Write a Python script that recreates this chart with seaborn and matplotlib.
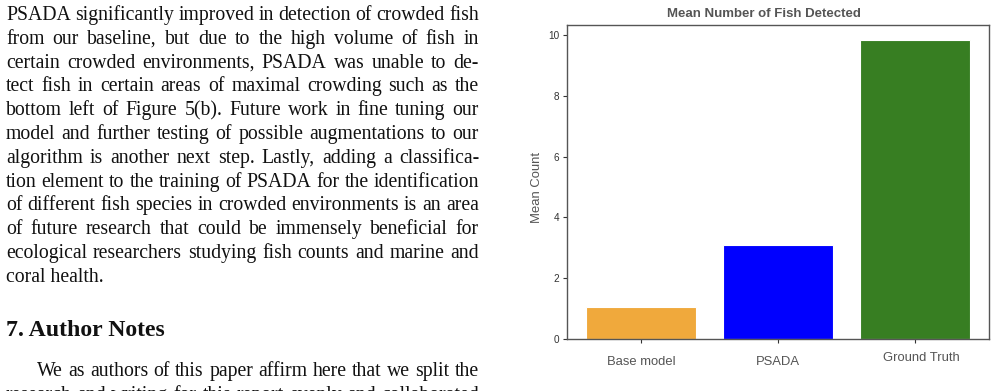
import matplotlib
matplotlib.use('Agg')
import matplotlib.pyplot as plt
import matplotlib.transforms as mtransforms
from matplotlib.font_manager import FontProperties
import seaborn as sns

# chart data
models = ['Base model', 'PSADA', 'Ground Truth']
mean_counts = [1.04, 3.10, 9.84]
bar_colors = ['#F0A93C', '#0000FF', '#377E22']
y_ticks = [0, 2, 4, 6, 8, 10]

# page text next to the chart
paragraph_lines = [
    "PSADA significantly improved in detection of crowded fish",
    "from our baseline, but due to the high volume of fish in",
    "certain crowded environments, PSADA was unable to de-",
    "tect fish in certain areas of maximal crowding such as the",
    "bottom left of Figure 5(b).  Future work in fine tuning our",
    "model and further testing of possible augmentations to our",
    "algorithm is another next step.  Lastly, adding a classifica-",
    "tion element to the training of PSADA for the identification",
    "of different fish species in crowded environments is an area",
    "of future research that could be immensely beneficial for",
    "ecological researchers studying fish counts and marine and",
    "coral health.",
]
heading = "7. Author Notes"
notes_lines = [
    "We as authors of this paper affirm here that we split the",
    "research and writing for this report evenly and collaborated",
]

W, H = 996, 391
fig = plt.figure(figsize=(W / 100, H / 100), dpi=100)
renderer = fig.canvas.get_renderer()
px = mtransforms.IdentityTransform()

body_font = FontProperties(family='Liberation Serif', size=14.2)
head_font = FontProperties(family='Liberation Serif', size=17.1, weight='bold')


def word_width(word, prop):
    w, _, _ = renderer.get_text_width_height_descent(word, prop, ismath=False)
    return w


def draw_line(text, x0, x1, baseline, prop, justify=True):
    y = H - baseline
    if not justify:
        fig.text(x0, y, text, fontproperties=prop, transform=px,
                 va='baseline', ha='left', color='#111111')
        return
    words = text.split()
    widths = [word_width(w, prop) for w in words]
    gap = (x1 - x0 - sum(widths)) / (len(words) - 1)
    x = x0
    for w, ww in zip(words, widths):
        fig.text(x, y, w, fontproperties=prop, transform=px,
                 va='baseline', ha='left', color='#111111')
        x += ww + gap


# left column of text
left, right = 6, 479
for i, line in enumerate(paragraph_lines):
    draw_line(line, left, right, 20 + i * 23.8, body_font,
              justify=(i < len(paragraph_lines) - 1))
draw_line(heading, left, right, 336, head_font, justify=False)
draw_line(notes_lines[0], left + 31, right, 376, body_font)
draw_line(notes_lines[1], left, right, 400, body_font)

# bar chart
ax = fig.add_axes([567 / W, (H - 339) / H, 422 / W, 314 / H])
sns.barplot(x=models, y=mean_counts, hue=models, palette=bar_colors,
            saturation=1, legend=False, edgecolor='white', linewidth=0.8,
            ax=ax)
ax.set_xlim(-0.54, 2.54)
ax.set_ylim(0, 10.33)
ax.set_yticks(y_ticks)

for side in ['left', 'right', 'top', 'bottom']:
    ax.spines[side].set_color('#555555')
    ax.spines[side].set_linewidth(1.0)

ax.tick_params(axis='y', labelsize=7.2, length=3, width=0.8,
               colors='#333333', pad=2.5)
ax.tick_params(axis='x', labelsize=9.4, length=3, width=0.8,
               colors='#333333', labelcolor='#555555', pad=9)
for lbl in ax.get_yticklabels():
    lbl.set_fontfamily('Liberation Sans')
for lbl in ax.get_xticklabels():
    lbl.set_fontfamily('Liberation Sans')
# the last label sits a little higher and to the right in the original
shift = mtransforms.ScaledTranslation(6 / 100, 4 / 100, fig.dpi_scale_trans)
gt = ax.get_xticklabels()[2]
gt.set_transform(gt.get_transform() + shift)

ax.set_xlabel('')
ax.set_ylabel('Mean Count', fontsize=9.4, color='#555555',
              fontfamily='Liberation Sans')
ax.yaxis.set_label_coords(-0.058, 0.4825)
ax.set_title('Mean Number of Fish Detected', fontsize=9.5, fontweight='bold',
             color='#555555', fontfamily='Liberation Sans', x=0.467, pad=6)

plt.savefig('out.png', dpi=100)
plt.close()
